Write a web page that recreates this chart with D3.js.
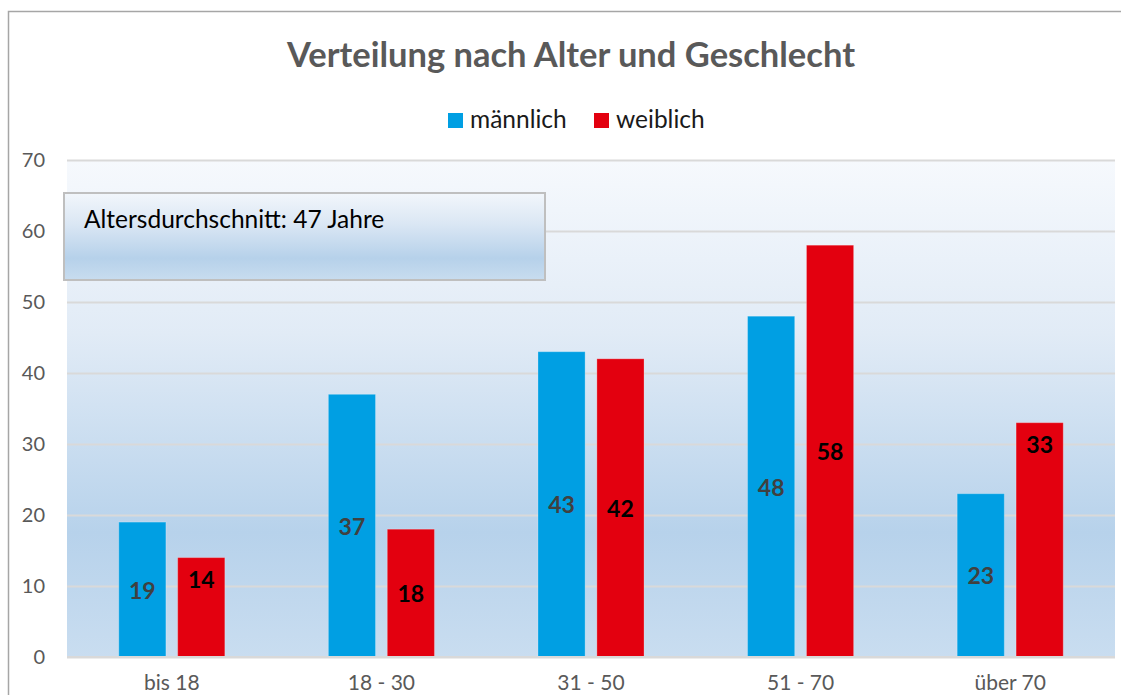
<!DOCTYPE html>
<html>
<head>
<meta charset="utf-8">
<script src="https://cdn.jsdelivr.net/npm/d3@7"></script>
<style>
	html, body { margin: 0; padding: 0; background: #fff; }
	svg { display: block; font-family: Lato, "Open Sans", sans-serif; }
	svg text { font-family: Lato, "Open Sans", sans-serif; }
</style>
</head>
<body>
<svg id="chart" width="1121" height="695"></svg>
<script>
// data
const categories = ["bis 18", "18 - 30", "31 - 50", "51 - 70", "über 70"];
const seriesNames = ["männlich", "weiblich"];
const maleValues = [19, 37, 43, 48, 23];
const femaleValues = [14, 18, 42, 58, 33];
const yTicks = [0, 10, 20, 30, 40, 50, 60, 70];
const chartTitle = "Verteilung nach Alter und Geschlecht";
const noteText = "Altersdurchschnitt: 47 Jahre";

// labels that Excel put at "inside end" instead of centre
const insideEnd = new Set(["bis 18|weiblich", "über 70|weiblich"]);

const colors = { "männlich": "#009fe3", "weiblich": "#e3000f" };
const labelColors = { "männlich": "#404040", "weiblich": "#000000" };

const rows = categories.map((c, i) => ({ cat: c, values: [
	{ key: "männlich", value: maleValues[i] },
	{ key: "weiblich", value: femaleValues[i] }
]}));

const width = 1121, height = 695;
const margin = { left: 67, right: 6, top: 160, bottom: 38 };

const svg = d3.select("#chart");

// gradients
const defs = svg.append("defs");
const plotGrad = defs.append("linearGradient").attr("id", "plotGrad")
	.attr("x1", 0).attr("y1", 0).attr("x2", 0).attr("y2", 1);
[[0, "#f6f9fd"], [0.35, "#e1ebf6"], [0.75, "#b7d2eb"], [1, "#c9ddf0"]]
	.forEach(([o, c]) => plotGrad.append("stop").attr("offset", o).attr("stop-color", c));

const boxGrad = defs.append("linearGradient").attr("id", "boxGrad")
	.attr("x1", 0).attr("y1", 0).attr("x2", 0).attr("y2", 1);
[[0, "#f2f6fb"], [0.35, "#dbe7f4"], [0.75, "#b6d1ea"], [1, "#c8dcef"]]
	.forEach(([o, c]) => boxGrad.append("stop").attr("offset", o).attr("stop-color", c));

// outer chart border
svg.append("rect")
	.attr("x", 8.5).attr("y", 11.5)
	.attr("width", width + 20).attr("height", height + 20)
	.attr("fill", "#fff")
	.attr("stroke", "#a6a6a6").attr("stroke-width", 1.5);

// scales
const x0 = d3.scaleBand()
	.domain(categories)
	.range([margin.left, width - margin.right])
	.paddingInner(0.494).paddingOuter(0.247);

const x1 = d3.scaleBand()
	.domain(seriesNames)
	.range([0, x0.bandwidth()])
	.paddingInner(0.2);

const y = d3.scaleLinear()
	.domain([0, 70])
	.range([height - margin.bottom, margin.top]);

// plot background
svg.append("rect")
	.attr("x", margin.left).attr("y", y(70))
	.attr("width", width - margin.right - margin.left)
	.attr("height", y(0) - y(70))
	.attr("fill", "url(#plotGrad)");

// gridlines + y labels
const yAxis = d3.axisLeft(y)
	.tickValues(yTicks)
	.tickSize(-(width - margin.right - margin.left))
	.tickPadding(22);

svg.append("g")
	.attr("transform", `translate(${margin.left},0)`)
	.call(yAxis)
	.attr("font-family", null)
	.call(g => g.select(".domain").remove())
	.call(g => g.selectAll("line").attr("stroke", "#d9d9d9").attr("stroke-width", 2))
	.call(g => g.selectAll("text")
		.attr("fill", "#595959")
		.style("font-size", "20px"));

// x labels
svg.append("g")
	.attr("transform", `translate(0,${y(0)})`)
	.call(d3.axisBottom(x0).tickSize(0).tickPadding(18))
	.attr("font-family", null)
	.call(g => g.select(".domain").remove())
	.call(g => g.selectAll("text")
		.attr("fill", "#595959")
		.style("font-size", "21px"));

// bars
const groups = svg.append("g").attr("class", "bars")
	.selectAll("g")
	.data(rows)
	.join("g")
	.attr("transform", d => `translate(${x0(d.cat)},0)`);

groups.selectAll("rect")
	.data(d => d.values.map(v => ({ ...v, cat: d.cat })))
	.join("rect")
	.attr("x", d => x1(d.key))
	.attr("y", d => y(d.value))
	.attr("width", x1.bandwidth())
	.attr("height", d => y(0) - y(d.value))
	.attr("fill", d => colors[d.key])
	.attr("stroke", "#ffffff").attr("stroke-opacity", 0.25).attr("stroke-width", 1);

groups.selectAll("text")
	.data(d => d.values.map(v => ({ ...v, cat: d.cat })))
	.join("text")
	.attr("x", d => x1(d.key) + x1.bandwidth() / 2)
	.attr("y", d => insideEnd.has(d.cat + "|" + d.key)
		? y(d.value) + 22
		: (y(d.value) + y(0)) / 2 + 1)
	.attr("dy", "0.35em")
	.attr("text-anchor", "middle")
	.attr("fill", d => labelColors[d.key])
	.style("font-size", "23px")
	.style("font-weight", "bold")
	.text(d => d.value);

// zero line
svg.append("line")
	.attr("x1", margin.left).attr("x2", width - margin.right)
	.attr("y1", y(0)).attr("y2", y(0))
	.attr("stroke", "#d9d9d9").attr("stroke-width", 2);

// title
svg.append("text")
	.attr("x", 571).attr("y", 67)
	.attr("text-anchor", "middle")
	.attr("fill", "#595959")
	.style("font-size", "34.5px")
	.style("font-weight", "bold")
	.text(chartTitle);

// legend
const legend = svg.append("g").attr("transform", "translate(448,113)");
const legendItems = legend.selectAll("g")
	.data(seriesNames)
	.join("g")
	.attr("transform", (d, i) => `translate(${i * 146},0)`);
legendItems.append("rect")
	.attr("width", 15).attr("height", 15)
	.attr("fill", d => colors[d]);
legendItems.append("text")
	.attr("x", 22).attr("y", 15)
	.attr("fill", "#1a1a1a")
	.style("font-size", "24.5px")
	.text(d => d);

// note box
svg.append("rect")
	.attr("x", 64).attr("y", 193)
	.attr("width", 481).attr("height", 87)
	.attr("fill", "url(#boxGrad)")
	.attr("stroke", "#bfbfbf").attr("stroke-width", 2);
svg.append("text")
	.attr("x", 84).attr("y", 228)
	.attr("fill", "#000")
	.style("font-size", "24.5px")
	.text(noteText);
</script>
</body>
</html>
